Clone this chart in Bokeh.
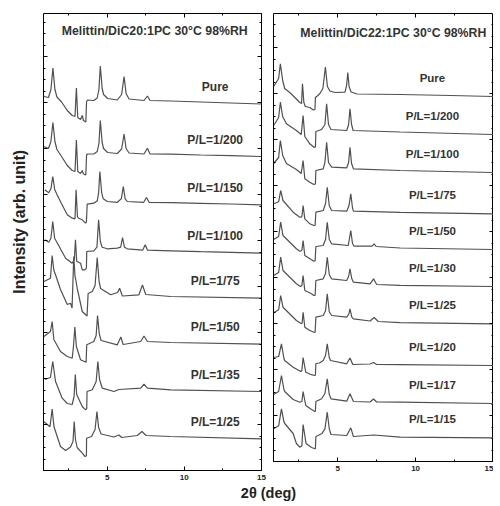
import math
from bokeh.plotting import figure
from bokeh.models import Label, LinearAxis, SingleIntervalTicker, Range1d
from bokeh.layouts import row, column
from bokeh.embed import file_html
from bokeh.resources import INLINE

FONT = "Liberation Sans"
LINE = "#505050"

# ---------------- data: left panel (DiC20:1PC) ----------------
# x = 2theta (deg), y = intensity (arb.) relative to the trace's high-angle baseline
LEFT_NAMES = ["Pure", "P/L=1/200", "P/L=1/150", "P/L=1/100",
              "P/L=1/75", "P/L=1/50", "P/L=1/35", "P/L=1/25"]
LEFT_OFFSETS = [366.5, 314, 265.7, 217.3, 172.3, 126.3, 79, 31.7]

L_PURE_X = [0.90, 1.20, 1.36, 1.49, 1.62, 1.75, 2.05, 2.42, 2.74, 2.92, 3.01, 3.10, 3.28, 3.39, 3.47, 3.62, 3.67,
            3.73, 4.14, 4.36, 4.47, 4.56, 4.68, 4.77, 5.03, 5.66, 5.94, 6.10, 6.23, 6.42, 7.39, 7.61, 7.78, 9.12,
            11.07, 13.02, 15.0]
L_PURE_Y = [7.5, 6.5, 14.5, 36, 14.5, 7, 2, -6.5, -11.5, -12.5, 16, -13.5, -15.5, -11.5, -16.5, -18, 2.5,
            4, 3.5, 6, 14.5, 38, 15.5, 9.5, 5.5, 4, 9.5, 27.5, 10.5, 5, 3.5, 8, 3.5, 3,
            2, 1, 0]

L_200_X = [0.90, 1.20, 1.36, 1.49, 1.62, 1.75, 2.05, 2.42, 2.74, 2.92, 3.01, 3.10, 3.28, 3.39, 3.47, 3.62, 3.67,
           3.73, 4.14, 4.36, 4.47, 4.56, 4.68, 4.77, 5.03, 5.66, 5.94, 6.10, 6.23, 6.42, 7.39, 7.61, 7.78, 9.12,
           11.07, 13.02, 15.0]
L_200_Y = [10, 8, 15, 34, 15, 7, 0, -9, -14, -15, 16.5, -15, -17, -14, -17.5, -18.5, 1.5,
           2.5, 2.5, 5, 13, 36, 14, 8, 4, 3, 7.5, 22.5, 8, 3.5, 2.5, 8.3, 2.5, 2.3,
           1.5, 0.8, 0]

L_150_X = [0.96, 1.22, 1.36, 1.48, 1.61, 1.76, 2.05, 2.42, 2.74, 2.92, 2.99, 3.08, 3.16, 3.39, 3.60, 3.66, 3.71,
           4.14, 4.36, 4.45, 4.53, 4.65, 4.75, 5.01, 5.66, 5.92, 6.05, 6.17, 6.31, 7.37, 7.55, 7.72, 9.12,
           11.07, 13.02, 15.0]
L_150_Y = [15, 12, 16, 28.3, 15, 10, 1, -10, -13.4, -14, 15, -12, -13.4, -15, -18.4, -17, 0.6,
           1.6, 4, 12, 33.3, 12, 6, 3.3, 2.5, 6, 18.3, 6, 3.3, 2.5, 7.3, 2.5, 2.2,
           1.5, 0.8, 0]

L_100_X = [0.96, 1.22, 1.36, 1.48, 1.60, 1.72, 2.31, 2.74, 2.88, 2.95, 3.03, 3.28, 3.39, 3.56, 3.66, 3.68,
           4.14, 4.34, 4.45, 4.56, 4.68, 5.01, 5.66, 5.88, 6.00, 6.12, 6.31, 7.30, 7.47, 7.62, 9.12,
           11.07, 13.02, 15.0]
L_100_Y = [13.4, 11, 15, 31.7, 15, 11.7, -5, -10, -6, 13.4, -8, -10, -16.6, -16.6, -15, 1.7,
           2.4, 6, 33.4, 12, 6, 4.4, 5, 6, 15.7, 6, 4.4, 3, 8.4, 3, 2.4,
           1.5, 0.8, 0]

L_75_X = [0.91, 1.33, 1.44, 1.55, 1.66, 1.98, 2.42, 2.63, 2.73, 2.84, 2.92, 2.99, 3.08, 3.39, 3.70, 3.77,
          4.04, 4.22, 4.36, 4.48, 4.58, 5.23, 5.68, 5.81, 5.99, 7.06, 7.29, 7.50, 9.12, 15.0]
L_75_Y = [16.7, 20, 42.7, 28, 23.4, 8.7, -6.3, -5, -9.8, 41.7, 22, 16.7, 8.7, -13.3, -17.8, 4.7,
          6.7, 12.7, 40.7, 16.7, 9.7, 3.4, 5.7, 10, 2.2, 3.4, 13.2, 3.7, 1.7, 0]

L_50_X = [0.91, 1.33, 1.44, 1.55, 1.98, 2.42, 2.74, 2.82, 2.91, 3.01, 3.28, 3.64, 3.68,
          4.14, 4.29, 4.38, 4.49, 4.61, 5.66, 5.89, 6.04, 7.18, 7.39, 7.61, 9.12, 15.0]
L_50_Y = [7.7, 12.7, 22.7, 4.7, -7.3, -12.3, -14, -2.3, 17.2, -2.3, -15.6, -18, -0.6,
          2.7, 8.7, 28.7, 10.7, 3.7, -0.6, 7.2, -0.3, 2.7, 8.2, 2.7, 1.7, 0]

L_35_X = [0.96, 1.33, 1.48, 1.66, 2.09, 2.42, 2.74, 2.86, 2.94, 3.03, 3.39, 3.60, 3.68, 3.70,
          4.04, 4.29, 4.40, 4.51, 4.69, 5.44, 5.77, 7.18, 7.39, 7.61, 9.12, 15.0]
L_35_Y = [12, 14, 30, 10, -6.7, -12, -13, -5, 17, -3, -15, -18.3, -17, 0,
          1.7, 10, 30, 12, 3.3, 0, 2, 3.3, 7.3, 3.3, 1.7, 0]

L_25_X = [0.91, 1.30, 1.44, 1.56, 1.66, 1.98, 2.31, 2.63, 2.79, 2.87, 2.95, 3.06, 3.39, 3.57, 3.66, 3.67,
          3.99, 4.22, 4.34, 4.45, 4.61, 5.44, 5.77, 5.94, 6.96, 7.25, 7.53, 9.12, 15.0]
L_25_Y = [17, 12, 29.8, 12, 7.3, -7.7, -11.7, -8.2, -2.7, 17.3, -0.7, -8.7, -14.4, -17.7, -17, 0.6,
          2.3, 9.3, 27.3, 11.3, 4.8, 1.8, 3.8, 1.3, 3.3, 7.3, 3.3, 2.3, 0]

# ---------------- data: right panel (DiC22:1PC) ----------------
RIGHT_NAMES = ["Pure", "P/L=1/200", "P/L=1/100", "P/L=1/75", "P/L=1/50",
               "P/L=1/30", "P/L=1/25", "P/L=1/20", "P/L=1/17", "P/L=1/15"]
RIGHT_OFFSETS = [365, 327, 289, 247.7, 212, 175, 137.7, 96, 58, 23.7]

R_PURE_X = [0.89, 1.21, 1.32, 1.47, 1.60, 1.92, 2.25, 2.57, 2.68, 2.74, 2.83, 2.92, 3.21, 3.44, 3.54, 3.57,
            3.73, 3.86, 4.05, 4.21, 4.34, 4.50, 4.83, 5.47, 5.57, 5.65, 5.73, 5.86, 6.25, 9.02, 12.25, 15.0]
R_PURE_Y = [10, 18, 32.7, 16, 8, 4, -1, -6, -7, 12.7, -6, -10, -11, -13.5, -13, -1,
            1, 3, 8, 29.5, 10, 5.5, 4, 4.3, 11, 24, 10, 4.5, 2.5, 2, 1, 0]

R_200_X = [0.89, 1.21, 1.32, 1.47, 1.71, 2.35, 2.66, 2.78, 2.89, 3.21, 3.50, 3.57, 3.60, 3.97, 4.18, 4.29,
           4.41, 4.57, 5.58, 5.70, 5.79, 5.89, 5.99, 9.02, 15.0]
R_200_Y = [9, 17, 32.3, 18, 10.7, 4, 0, 19, -2, -9.3, -13, -12.5, 3, 5, 10, 30.7,
           10, 5, 4, 10, 25.7, 10, 4, 2.5, 0]

R_100_X = [0.89, 1.21, 1.32, 1.47, 1.71, 2.35, 2.66, 2.78, 2.89, 3.21, 3.47, 3.57, 3.60, 4.07, 4.18, 4.29,
           4.41, 4.61, 5.58, 5.70, 5.79, 5.89, 6.01, 9.02, 15.0]
R_100_Y = [9, 15, 32, 17, 9, 3, -1, 12, -6.3, -9.7, -12, -11.5, 2, 3.7, 10, 30.3,
           10, 5.3, 4.7, 10, 25.3, 9, 3.7, 2, 0]

R_75_X = [0.89, 1.21, 1.34, 1.49, 2.14, 2.57, 2.70, 2.78, 2.89, 3.21, 3.47, 3.55, 3.60, 4.07, 4.22, 4.33,
          4.46, 4.61, 5.58, 5.72, 5.84, 5.95, 6.01, 9.02, 15.0]
R_75_Y = [10, 12, 23.3, 13.3, 1.6, -3.4, -3, 8.3, -5, -10, -11.7, -11.5, 1.6, 3.3, 10, 26.6,
          8, 3.3, 2.6, 8, 20, 6, 2.6, 1.5, 0]

R_50_X = [0.89, 1.21, 1.34, 1.49, 2.35, 2.57, 2.70, 2.78, 2.89, 3.32, 3.47, 3.55, 3.60, 4.07, 4.22, 4.33,
          4.46, 4.61, 5.68, 5.84, 5.95, 6.05, 7.21, 7.34, 7.47, 9.02, 15.0]
R_50_Y = [10, 13, 27.3, 14, 0.7, -1.7, -1, 9, -6, -10.3, -11.7, -11.5, 3, 4, 10, 27.3,
          10, 5.7, 4, 19, 6, 3.3, 3.3, 5.7, 3, 1.5, 0]

R_30_X = [0.89, 1.21, 1.34, 1.49, 2.35, 2.61, 2.70, 2.78, 2.89, 3.32, 3.47, 3.55, 3.60, 4.07, 4.22, 4.33,
          4.46, 4.61, 5.58, 5.70, 5.79, 5.90, 6.01, 7.08, 7.30, 7.50, 9.02, 15.0]
R_30_Y = [11, 14, 29.3, 16, 2.7, 0, 1, 11, -4, -7.3, -9, -9, 6, 7.7, 13, 29.3,
          12, 7.7, 6, 10, 17.7, 8, 4.3, 2.7, 7.7, 2, 1.2, 0]

R_25_X = [0.89, 1.21, 1.34, 1.49, 2.35, 2.68, 2.72, 2.78, 2.89, 3.21, 3.47, 3.55, 3.60, 4.07, 4.22, 4.33,
          4.46, 4.61, 5.58, 5.72, 5.79, 5.90, 6.01, 7.08, 7.34, 7.60, 9.02, 15.0]
R_25_Y = [11, 14, 28.3, 16.6, 3.3, 0, 1, 11.6, -3.4, -6.7, -8.4, -8.4, 6.6, 8.3, 13, 30,
          12, 8.3, 6.6, 10, 15, 7, 5, 2.8, 6.3, 2.3, 1.2, 0]

R_20_X = [0.89, 1.21, 1.39, 1.55, 1.60, 2.14, 2.63, 2.70, 2.78, 2.95, 3.32, 3.52, 3.57, 3.60, 3.83, 4.07,
          4.22, 4.33, 4.46, 4.54, 5.58, 5.79, 5.97, 7.08, 7.30, 7.50, 9.02, 15.0]
R_20_Y = [8, 9, 21.7, 7, 5, -1.7, -6, -5, 8, -6.7, -9.2, -10, -9.5, 2, 2.5, 5,
          10, 21.7, 8, 5, 1.7, 7.5, 1, 1.5, 3, 1, 0.8, 0]

R_17_X = [0.89, 1.21, 1.39, 1.55, 1.60, 2.14, 2.57, 2.70, 2.78, 2.95, 3.32, 3.54, 3.57, 3.60, 3.97, 4.18,
          4.33, 4.46, 4.57, 5.58, 5.79, 6.01, 7.08, 7.30, 7.50, 9.02, 15.0]
R_17_Y = [9, 12, 28, 14, 12, 4, 1.3, 2, 12, -2, -6, -8, -7.5, 2, 4.7, 10,
          24.7, 9, 4.7, 2.3, 9.7, 2, 1.5, 4.5, 1.5, 1.3, 0]

R_15_X = [0.89, 1.21, 1.39, 1.55, 1.60, 2.14, 2.35, 2.57, 2.70, 2.78, 2.97, 3.32, 3.54, 3.57, 3.60, 3.97,
          4.18, 4.33, 4.46, 4.57, 5.58, 5.84, 6.01, 7.30, 9.02, 15.0]
R_15_Y = [9, 12, 29, 16, 14.3, 4.3, -5.7, -9.4, -8, 13.3, -5.7, -9.7, -11, -10.5, 1.3, 4,
          9, 25.6, 9, 3.3, 2.3, 10, 1.3, 2.8, 0.6, 0]

LEFT_TRACES = [(L_PURE_X, L_PURE_Y), (L_200_X, L_200_Y), (L_150_X, L_150_Y), (L_100_X, L_100_Y),
               (L_75_X, L_75_Y), (L_50_X, L_50_Y), (L_35_X, L_35_Y), (L_25_X, L_25_Y)]
RIGHT_TRACES = [(R_PURE_X, R_PURE_Y), (R_200_X, R_200_Y), (R_100_X, R_100_Y), (R_75_X, R_75_Y),
                (R_50_X, R_50_Y), (R_30_X, R_30_Y), (R_25_X, R_25_Y), (R_20_X, R_20_Y),
                (R_17_X, R_17_Y), (R_15_X, R_15_Y)]

X_MIN, X_MAX = 0.88, 15.0


def style_axis(ax, show_labels, ticker):
    ax.ticker = ticker
    ax.major_tick_in = 4
    ax.major_tick_out = 0
    ax.minor_tick_in = 2
    ax.minor_tick_out = 0
    ax.major_tick_line_color = "black"
    ax.minor_tick_line_color = "black"
    ax.axis_line_color = None
    if show_labels:
        ax.major_label_text_font = FONT
        ax.major_label_text_font_style = "bold"
        ax.major_label_text_font_size = "8px"
        ax.major_label_text_color = "#222222"
        ax.major_label_standoff = 4
    else:
        ax.major_label_text_font_size = "0px"
        ax.major_label_standoff = 0
        ax.major_label_text_color = None


def make_panel(frame_w, frame_h, y_top, border_left, border_right, border_top):
    p = figure(frame_width=frame_w, frame_height=frame_h,
               x_range=Range1d(X_MIN, X_MAX), y_range=Range1d(0, y_top),
               output_backend="svg", toolbar_location=None,
               min_border_left=border_left, min_border_right=border_right,
               min_border_top=border_top, min_border_bottom=0,
               background_fill_color="white", border_fill_color="white")
    p.grid.visible = False
    p.outline_line_color = "black"
    p.outline_line_width = 1
    style_axis(p.xaxis[0], True, SingleIntervalTicker(interval=5, num_minor_ticks=2))
    style_axis(p.yaxis[0], False, SingleIntervalTicker(interval=46, num_minor_ticks=4))
    top = LinearAxis()
    style_axis(top, False, SingleIntervalTicker(interval=5, num_minor_ticks=2))
    p.add_layout(top, "above")
    right = LinearAxis()
    style_axis(right, False, SingleIntervalTicker(interval=46, num_minor_ticks=4))
    p.add_layout(right, "right")
    return p


def add_traces(p, traces, offsets, names, label_x, label_dy, label_size):
    for (xs, ys), off, name in zip(traces, offsets, names):
        p.line(xs, [off + v for v in ys], line_color=LINE, line_width=1.2)
        p.add_layout(Label(x=label_x, y=off + label_dy, text=name,
                           text_align="center", text_baseline="middle",
                           text_font=FONT, text_font_style="bold",
                           text_font_size=label_size, text_color="#333333"))


# y-axis title strip (its own small canvas, left of the first panel)
Y_STRIP_W, Y_STRIP_H = 36, 470
p0 = figure(width=Y_STRIP_W, height=Y_STRIP_H, x_range=Range1d(0, Y_STRIP_W), y_range=Range1d(0, Y_STRIP_H),
            output_backend="svg", toolbar_location=None,
            x_axis_location=None, y_axis_location=None,
            min_border=0, outline_line_color=None)
p0.grid.visible = False
p0.add_layout(Label(x=19, y=Y_STRIP_H - 220, text="Intensity (arb. unit)", angle=math.pi / 2,
                    text_align="center", text_baseline="middle", text_font=FONT,
                    text_font_style="bold", text_font_size="16px", text_color="#222222"))

# left panel
p1 = make_panel(218, 457, 457, 43 - Y_STRIP_W, 6, 12)
add_traces(p1, LEFT_TRACES, LEFT_OFFSETS, LEFT_NAMES, 12.0, 17, "12px")
p1.add_layout(Label(x=8.08, y=440, text="Melittin/DiC20:1PC 30\u00b0C 98%RH",
                    text_align="center", text_baseline="middle", text_font=FONT,
                    text_font_style="bold", text_font_size="12.3px", text_color="#333333"))

# right panel
p2 = make_panel(220, 448, 448, 6, 0, 13)
add_traces(p2, RIGHT_TRACES, RIGHT_OFFSETS, RIGHT_NAMES, 11.08, 18.5, "11.5px")
p2.add_layout(Label(x=8.57, y=428.3, text="Melittin/DiC22:1PC 30\u00b0C 98%RH",
                    text_align="center", text_baseline="middle", text_font=FONT,
                    text_font_style="bold", text_font_size="12.3px", text_color="#333333"))

# shared x-axis title
p3 = figure(width=493, height=22, x_range=Range1d(0, 493), y_range=Range1d(0, 22),
            output_backend="svg", toolbar_location=None,
            x_axis_location=None, y_axis_location=None,
            min_border=0, outline_line_color=None)
p3.grid.visible = False
p3.add_layout(Label(x=268, y=11, text="2\u03b8 (deg)", text_align="center", text_baseline="middle",
                    text_font=FONT, text_font_style="bold", text_font_size="14.5px", text_color="#222222"))

layout = column(row(p0, p1, p2), p3)
open("out.html", "w").write(file_html(layout, INLINE))
